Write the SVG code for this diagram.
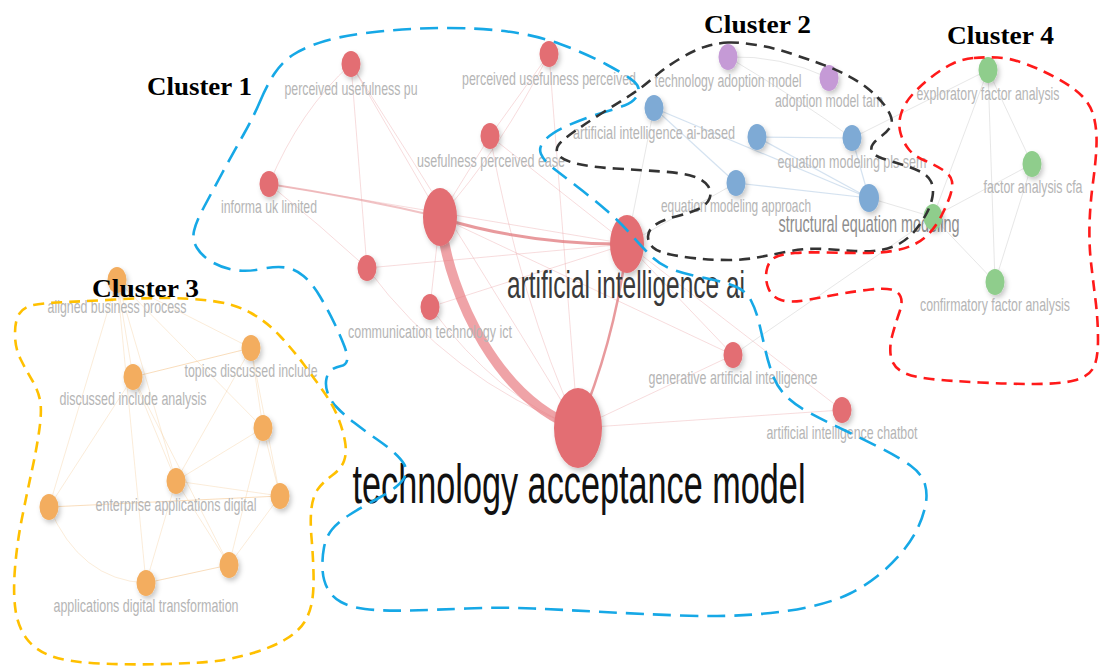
<svg xmlns="http://www.w3.org/2000/svg" width="1101" height="666" viewBox="0 0 1101 666">
<style>
.bg{fill:#ffffff}
.lbl{font-family:"Liberation Sans",Arial,sans-serif;font-size:19px;fill:#b5b5b5;text-anchor:middle}
.lbl-mid{font-family:"Liberation Sans",Arial,sans-serif;font-size:24px;fill:#8e8e8e;text-anchor:middle}
.lbl-ai{font-family:"Liberation Sans",Arial,sans-serif;font-size:39px;fill:#3a3a3a;text-anchor:middle}
.lbl-tam{font-family:"Liberation Sans",Arial,sans-serif;font-size:55px;fill:#111111;text-anchor:middle}
.cl{font-family:"Liberation Serif","Times New Roman",serif;font-size:26px;font-weight:bold;fill:#000000}
.red{fill:#e36e73}
.pur{fill:#c59ad6}
.blu{fill:#7eaad5}
.grn{fill:#8fcd8c}
.org{fill:#f3ad5f}
.nd{filter:url(#sh)}
.e-r{fill:none;stroke:#e9a3a6;stroke-width:1;opacity:.38}
.e-o{fill:none;stroke:#f6cf9f;stroke-width:1;opacity:.4}
.e-b{fill:none;stroke:#a9c5e2;stroke-width:1.2;opacity:.5}
.e-g{fill:none;stroke:#d0d0d0;stroke-width:1;opacity:.5}
.hull{fill:none;stroke-width:2.6;stroke-linecap:butt}
</style>
<defs>
<filter id="sh" x="-50%" y="-50%" width="200%" height="200%">
<feGaussianBlur in="SourceGraphic" stdDeviation="0.6" result="b"/>
<feDropShadow in="b" dx="2" dy="3" stdDeviation="2.5" flood-color="#000" flood-opacity="0.22"/>
</filter>
</defs>
<rect class="bg" x="0" y="0" width="1101" height="666"/>

<g id="connectors">
<path class="e-r" d="M351,64 Q300,110 269,184"/>
<path class="e-r" d="M351,64 L367,268"/>
<path class="e-r" d="M351,64 L440,217"/>
<path class="e-r" d="M351,64 Q470,250 578,428"/>
<path class="e-r" d="M549,54 L490,136"/>
<path class="e-r" d="M549,54 Q500,150 440,217"/>
<path class="e-r" d="M549,54 L578,428"/>
<path class="e-r" d="M490,136 L440,217"/>
<path class="e-r" d="M490,136 Q520,300 578,428"/>
<path class="e-r" d="M490,136 L627,244"/>
<path class="e-r" d="M269,184 Q360,198 440,217" style="stroke-width:2;opacity:.65"/>
<path class="e-r" d="M269,184 Q320,225 367,268"/>
<path class="e-r" d="M269,184 L627,244"/>
<path class="e-r" d="M367,268 L627,244"/>
<path class="e-r" d="M367,268 Q450,380 578,428"/>
<path class="e-r" d="M430,307 L627,244"/>
<path class="e-r" d="M430,307 Q500,400 578,428"/>
<path class="e-r" d="M430,307 L440,217"/>
<path class="e-r" d="M627,244 L733,355"/>
<path class="e-r" d="M578,428 Q680,380 733,355"/>
<path class="e-r" d="M578,428 L842,410"/>
<path class="e-r" d="M627,244 L842,410"/>
<path class="e-r" d="M440,217 L733,355"/>
<path class="e-g" d="M733,355 L933,217"/>
<path class="e-g" d="M627,244 L736,183"/>
<path class="e-g" d="M627,244 L654,108"/>
<path d="M440,218 C450,300 500,400 578,428" fill="none" stroke="#e7787d" stroke-width="10" opacity="0.68"/>
<path d="M440,218 Q530,245 627,244" fill="none" stroke="#e0787c" stroke-width="3" opacity="0.75"/>
<path d="M627,244 Q615,340 578,428" fill="none" stroke="#e0787c" stroke-width="2.5" opacity="0.75"/>
<path class="e-b" d="M757,137 L852,138"/>
<path class="e-b" d="M736,183 L869,198"/>
<path class="e-b" d="M654,108 L736,183"/>
<path class="e-b" d="M654,108 L869,198"/>
<path class="e-b" d="M852,138 L869,198"/>
<path class="e-b" d="M757,137 L869,198"/>
<path class="e-g" d="M728,57 Q780,55 829,78"/>
<path class="e-g" d="M728,57 Q800,100 852,138"/>
<path class="e-g" d="M988,70 L933,217"/>
<path class="e-g" d="M988,70 L1032,164"/>
<path class="e-g" d="M988,70 L995,282"/>
<path class="e-g" d="M1032,164 L995,282"/>
<path class="e-g" d="M933,217 L995,282"/>
<path class="e-g" d="M933,217 L1032,164"/>
<path class="e-g" d="M869,198 L933,217"/>
<path class="e-g" d="M852,138 L988,70"/>
<path class="e-o" d="M117,280 L133,377"/>
<path class="e-o" d="M117,280 L251,348"/>
<path class="e-o" d="M117,280 L176,481"/>
<path class="e-o" d="M117,280 L49,507"/>
<path class="e-o" d="M117,280 L263,428"/>
<path class="e-o" d="M117,280 L146,583"/>
<path class="e-o" d="M133,377 L251,348" style="opacity:.7"/>
<path class="e-o" d="M133,377 L176,481"/>
<path class="e-o" d="M133,377 L229,565"/>
<path class="e-o" d="M133,377 L49,507"/>
<path class="e-o" d="M251,348 L263,428"/>
<path class="e-o" d="M251,348 L176,481"/>
<path class="e-o" d="M263,428 L280,496"/>
<path class="e-o" d="M263,428 L176,481"/>
<path class="e-o" d="M263,428 L229,565"/>
<path class="e-o" d="M176,481 L280,496"/>
<path class="e-o" d="M176,481 L146,583"/>
<path class="e-o" d="M176,481 L229,565"/>
<path class="e-o" d="M49,507 L280,496" style="opacity:.7"/>
<path class="e-o" d="M49,507 Q80,580 146,583"/>
<path class="e-o" d="M146,583 L229,565" style="opacity:.7"/>
<path class="e-o" d="M280,496 L229,565"/>
<path class="e-o" d="M251,348 L280,496"/>
</g>

<g id="node-perceived-usefulness-pu"><ellipse class="red nd" cx="351" cy="64" rx="9.5" ry="13"/><text class="lbl" x="351" y="95" textLength="133" lengthAdjust="spacingAndGlyphs">perceived usefulness pu</text></g>
<g id="node-perceived-usefulness-perceived"><ellipse class="red nd" cx="549" cy="54" rx="9.5" ry="13"/><text class="lbl" x="549" y="85" textLength="174" lengthAdjust="spacingAndGlyphs">perceived usefulness perceived</text></g>
<g id="node-usefulness-perceived-ease"><ellipse class="red nd" cx="490" cy="136" rx="9.5" ry="13"/><text class="lbl" x="491" y="167" textLength="148" lengthAdjust="spacingAndGlyphs">usefulness perceived ease</text></g>
<g id="node-informa-uk-limited"><ellipse class="red nd" cx="269" cy="184" rx="9.5" ry="13"/><text class="lbl" x="269" y="213" textLength="96" lengthAdjust="spacingAndGlyphs">informa uk limited</text></g>
<g id="node-red-hub"><ellipse class="red nd" cx="440" cy="217" rx="17" ry="29"/></g>
<g id="node-red-small"><ellipse class="red nd" cx="367" cy="268" rx="9.5" ry="13"/></g>
<g id="node-communication-technology-ict"><ellipse class="red nd" cx="430" cy="307" rx="9.5" ry="13"/><text class="lbl" x="430" y="338" textLength="164" lengthAdjust="spacingAndGlyphs">communication technology ict</text></g>
<g id="node-generative-artificial-intelligence"><ellipse class="red nd" cx="733" cy="355" rx="9.5" ry="13"/><text class="lbl" x="733" y="384" textLength="169" lengthAdjust="spacingAndGlyphs">generative artificial intelligence</text></g>
<g id="node-artificial-intelligence-chatbot"><ellipse class="red nd" cx="842" cy="410" rx="9.5" ry="13"/><text class="lbl" x="842" y="439" textLength="151" lengthAdjust="spacingAndGlyphs">artificial intelligence chatbot</text></g>
<g id="node-artificial-intelligence-ai"><ellipse class="red nd" cx="627" cy="244" rx="17" ry="29"/><text class="lbl-ai" x="626" y="298" textLength="238" lengthAdjust="spacingAndGlyphs">artificial intelligence ai</text></g>
<g id="node-technology-acceptance-model"><ellipse class="red nd" cx="578" cy="428" rx="24" ry="40"/><text class="lbl-tam" x="579" y="503" textLength="453" lengthAdjust="spacingAndGlyphs">technology acceptance model</text></g>

<g id="node-technology-adoption-model"><ellipse class="pur nd" cx="728" cy="57" rx="9.5" ry="13"/><text class="lbl" x="728" y="87" textLength="147" lengthAdjust="spacingAndGlyphs">technology adoption model</text></g>
<g id="node-adoption-model-tam"><ellipse class="pur nd" cx="829" cy="78" rx="9.5" ry="13"/><text class="lbl" x="829" y="107" textLength="108" lengthAdjust="spacingAndGlyphs">adoption model tam</text></g>
<g id="node-artificial-intelligence-ai-based"><ellipse class="blu nd" cx="654" cy="108" rx="9.5" ry="13"/><text class="lbl" x="654" y="139" textLength="162" lengthAdjust="spacingAndGlyphs">artificial intelligence ai-based</text></g>
<g id="node-blue-small"><ellipse class="blu nd" cx="757" cy="137" rx="9.5" ry="13"/></g>
<g id="node-equation-modeling-pls-sem"><ellipse class="blu nd" cx="852" cy="138" rx="9.5" ry="13"/><text class="lbl" x="852" y="168" textLength="149" lengthAdjust="spacingAndGlyphs">equation modeling pls sem</text></g>
<g id="node-equation-modeling-approach"><ellipse class="blu nd" cx="736" cy="183" rx="9.5" ry="13"/><text class="lbl" x="736" y="212" textLength="150" lengthAdjust="spacingAndGlyphs">equation modeling approach</text></g>
<g id="node-structural-equation-modeling"><ellipse class="blu nd" cx="869" cy="198" rx="10" ry="14"/><text class="lbl-mid" x="869" y="232" textLength="181" lengthAdjust="spacingAndGlyphs">structural equation modeling</text></g>

<g id="node-exploratory-factor-analysis"><ellipse class="grn nd" cx="988" cy="70" rx="9.5" ry="13"/><text class="lbl" x="988" y="100" textLength="143" lengthAdjust="spacingAndGlyphs">exploratory factor analysis</text></g>
<g id="node-factor-analysis-cfa"><ellipse class="grn nd" cx="1032" cy="164" rx="9.5" ry="13"/><text class="lbl" x="1033" y="193" textLength="99" lengthAdjust="spacingAndGlyphs">factor analysis cfa</text></g>
<g id="node-green-small"><ellipse class="grn nd" cx="933" cy="217" rx="9.5" ry="13"/></g>
<g id="node-confirmatory-factor-analysis"><ellipse class="grn nd" cx="995" cy="282" rx="9.5" ry="13"/><text class="lbl" x="995" y="311" textLength="150" lengthAdjust="spacingAndGlyphs">confirmatory factor analysis</text></g>

<g id="node-aligned-business-process"><ellipse class="org nd" cx="117" cy="280" rx="9.5" ry="13"/><text class="lbl" x="117" y="313" textLength="139" lengthAdjust="spacingAndGlyphs">aligned business process</text></g>
<g id="node-topics-discussed-include"><ellipse class="org nd" cx="251" cy="348" rx="9.5" ry="13"/><text class="lbl" x="251" y="377" textLength="133" lengthAdjust="spacingAndGlyphs">topics discussed include</text></g>
<g id="node-discussed-include-analysis"><ellipse class="org nd" cx="133" cy="377" rx="9.5" ry="13"/><text class="lbl" x="133" y="405" textLength="147" lengthAdjust="spacingAndGlyphs">discussed include analysis</text></g>
<g id="node-orange-a"><ellipse class="org nd" cx="263" cy="428" rx="9.5" ry="13"/></g>
<g id="node-enterprise-applications-digital"><ellipse class="org nd" cx="176" cy="481" rx="9.5" ry="13"/><text class="lbl" x="176" y="511" textLength="161" lengthAdjust="spacingAndGlyphs">enterprise applications digital</text></g>
<g id="node-orange-b"><ellipse class="org nd" cx="280" cy="496" rx="9.5" ry="13"/></g>
<g id="node-orange-c"><ellipse class="org nd" cx="49" cy="507" rx="9.5" ry="13"/></g>
<g id="node-orange-d"><ellipse class="org nd" cx="229" cy="565" rx="9.5" ry="13"/></g>
<g id="node-applications-digital-transformation"><ellipse class="org nd" cx="146" cy="583" rx="9.5" ry="13"/><text class="lbl" x="146" y="612" textLength="185" lengthAdjust="spacingAndGlyphs">applications digital transformation</text></g>

<g id="cluster-outlines">
<path id="hull-cluster-1" class="hull" stroke="#16a8e6" stroke-dasharray="18 9" d="M260,101.5 Q267,85 274.5,73.5 Q282,62 293.5,54.5 Q305,47 325,41 Q345,35 379,31.5 Q413,28 446.5,28 Q480,28 507.5,31.5 Q535,35 560,44 Q585,53 606.5,64.5 Q628,76 634.5,82 Q641,88 637.5,95 Q634,102 624.5,105.5 Q615,109 600,113.5 Q585,118 569,125 Q553,132 545.5,139.5 Q538,147 541,154 Q544,161 553,168 Q562,175 577,186.5 Q592,198 606,210 Q620,222 631,234.5 Q642,247 651,256 Q660,265 672.5,269.5 Q685,274 705,278 Q725,282 735.5,286.5 Q746,291 751,300.5 Q756,310 759,322.5 Q762,335 765,348.5 Q768,362 772.5,374.5 Q777,387 786,396 Q795,405 810,413 Q825,421 845,430.5 Q865,440 882.5,449 Q900,458 911,466 Q922,474 925,484.5 Q928,495 925,507.5 Q922,520 916,531.5 Q910,543 900,554.5 Q890,566 877.5,576 Q865,586 850,593.5 Q835,601 811,606.5 Q787,612 753.5,614.5 Q720,617 680,615.5 Q640,614 603.5,612 Q567,610 533.5,608.5 Q500,607 466.5,608.5 Q433,610 406.5,610.5 Q380,611 365,609 Q350,607 341,602 Q332,597 327.5,588.5 Q323,580 322.5,569 Q322,558 324,547.5 Q326,537 332,529.5 Q338,522 350,514.5 Q362,507 376,499.5 Q390,492 397,486 Q404,480 405.5,474.5 Q407,469 404,464 Q401,459 394.5,453 Q388,447 376.5,439 Q365,431 354,422.5 Q343,414 336.5,407 Q330,400 327.5,392.5 Q325,385 326.5,378.5 Q328,372 332,369.5 Q336,367 341,366 Q346,365 347,360.5 Q348,356 344.5,346.5 Q341,337 334.5,323.5 Q328,310 320,296.5 Q312,283 303.5,276 Q295,269 285.5,267.5 Q276,266 261.5,269 Q247,272 234.5,270 Q222,268 212,262 Q202,256 197,248 Q192,240 194,231 Q196,222 204,207 Q212,192 222.5,172.5 Q233,153 243,135.5 Q253,118 260,101.5 Z"/>
<path id="hull-cluster-2" class="hull" stroke="#333333" stroke-dasharray="11 7" d="M728,42.5 Q738,42 756.5,45 Q775,48 791,53.5 Q807,59 821,64 Q835,69 847.5,75.5 Q860,82 869,89.5 Q878,97 883.5,104 Q889,111 891,117 Q893,123 890,127.5 Q887,132 881.5,136 Q876,140 873,144 Q870,148 872.5,152 Q875,156 882.5,158.5 Q890,161 900,164 Q910,167 919,171 Q928,175 931,181.5 Q934,188 932.5,196.5 Q931,205 926.5,213.5 Q922,222 915.5,230 Q909,238 900.5,243 Q892,248 881,250 Q870,252 855,251 Q840,250 823.5,249 Q807,248 791,251 Q775,254 760,257 Q745,260 728.5,260 Q712,260 697.5,258.5 Q683,257 670.5,254.5 Q658,252 653,247.5 Q648,243 648,236.5 Q648,230 655,225 Q662,220 676,216.5 Q690,213 698.5,209 Q707,205 709.5,198.5 Q712,192 708,186 Q704,180 693.5,176.5 Q683,173 661.5,171.5 Q640,170 615,168.5 Q590,167 576,163.5 Q562,160 558.5,155 Q555,150 558.5,145 Q562,140 575,131 Q588,122 603,112.5 Q618,103 630.5,95 Q643,87 653,78 Q663,69 678.5,59.5 Q694,50 706,46.5 Q718,43 728,42.5 Z"/>
<path id="hull-cluster-4" class="hull" stroke="#ff1a1a" stroke-dasharray="11 7" d="M974,58 Q985,57 997.5,57.5 Q1010,58 1026,64 Q1042,70 1057.5,78.5 Q1073,87 1082,96 Q1091,105 1094,117.5 Q1097,130 1096.5,145 Q1096,160 1093,182.5 Q1090,205 1089.5,225 Q1089,245 1091,262.5 Q1093,280 1095.5,300 Q1098,320 1098,340 Q1098,360 1093,368.5 Q1088,377 1074,380.5 Q1060,384 1035,384 Q1010,384 980,382.5 Q950,381 931,379 Q912,377 902.5,372 Q893,367 891,357 Q889,347 892.5,334.5 Q896,322 899.5,312 Q903,302 900.5,296.5 Q898,291 891,289.5 Q884,288 870.5,289.5 Q857,291 840,294 Q823,297 806.5,300 Q790,303 781,300 Q772,297 768.5,288.5 Q765,280 766.5,271 Q768,262 774,258 Q780,254 795,253 Q810,252 827.5,252.5 Q845,253 862.5,253 Q880,253 892.5,251 Q905,249 914,244.5 Q923,240 929.5,233 Q936,226 941,216.5 Q946,207 949.5,197.5 Q953,188 952,181.5 Q951,175 943,170 Q935,165 924.5,160.5 Q914,156 908.5,149 Q903,142 900.5,133 Q898,124 901,114 Q904,104 912,95 Q920,86 931.5,77 Q943,68 953,63.5 Q963,59 974,58 Z"/>
<path id="hull-cluster-3" class="hull" stroke="#ffc000" stroke-dasharray="11 7" d="M33.5,305 Q43,303 66.5,302 Q90,301 115,299.5 Q140,298 165,298 Q190,298 212.5,301 Q235,304 251,313 Q267,322 280,336 Q293,350 303.5,364 Q314,378 323.5,391.5 Q333,405 338,417.5 Q343,430 345,441.5 Q347,453 344,461 Q341,469 332,475.5 Q323,482 318,489 Q313,496 311.5,508 Q310,520 311.5,537.5 Q313,555 313.5,572.5 Q314,590 312,601.5 Q310,613 304.5,622 Q299,631 286,639 Q273,647 253,653 Q233,659 216.5,661 Q200,663 166.5,664 Q133,665 100,663.5 Q67,662 51,656 Q35,650 26.5,638.5 Q18,627 15.5,610 Q13,593 15,568 Q17,543 22,518 Q27,493 32,470 Q37,447 39.5,428.5 Q42,410 40,400 Q38,390 32,380 Q26,370 20.5,359 Q15,348 15,334 Q15,320 19.5,313.5 Q24,307 33.5,305 Z"/>
</g>

<g id="cluster-labels">
<text class="cl" x="147" y="95" textLength="105" lengthAdjust="spacingAndGlyphs">Cluster 1</text>
<text class="cl" x="704" y="33" textLength="107" lengthAdjust="spacingAndGlyphs">Cluster 2</text>
<text class="cl" x="92" y="297" textLength="107" lengthAdjust="spacingAndGlyphs">Cluster 3</text>
<text class="cl" x="947" y="44" textLength="107" lengthAdjust="spacingAndGlyphs">Cluster 4</text>
</g>
</svg>
